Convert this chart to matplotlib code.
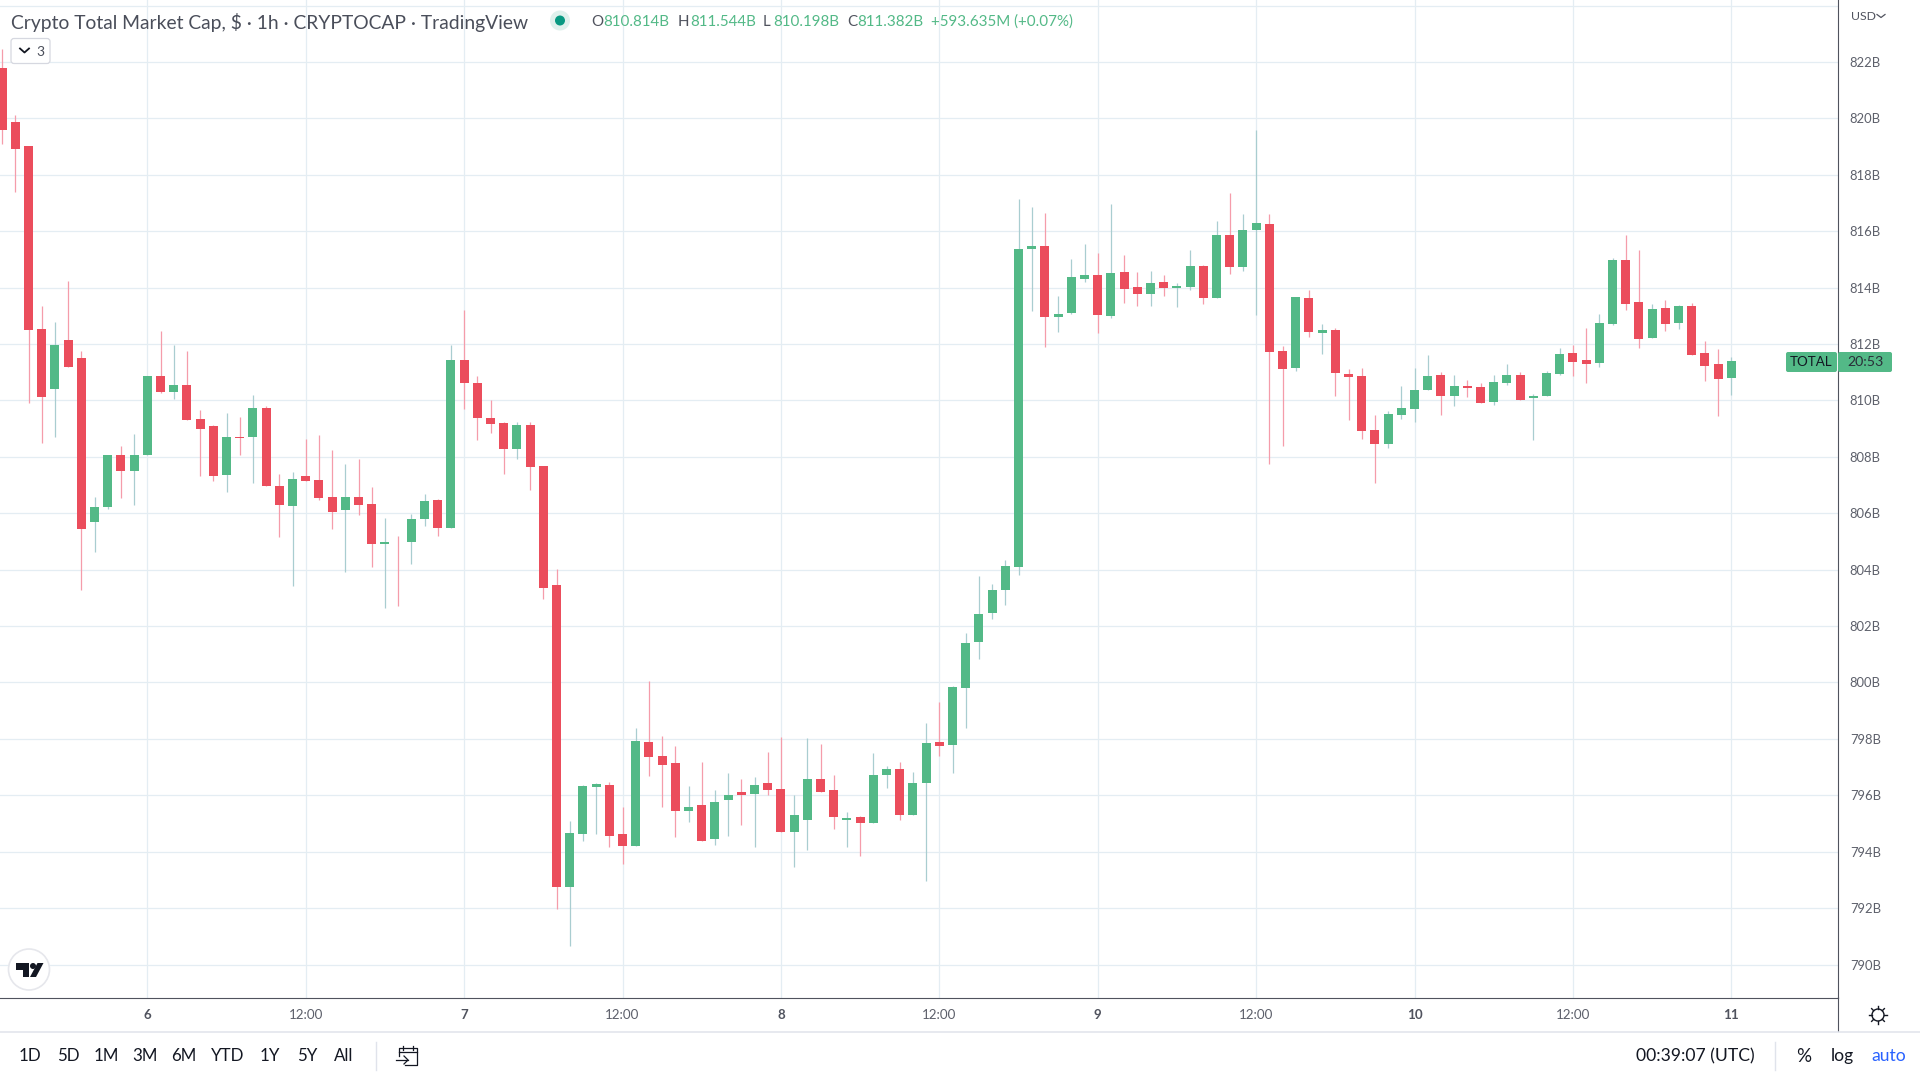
import numpy as np
import matplotlib
matplotlib.use("Agg")
import matplotlib.pyplot as plt
from matplotlib.patches import Circle, FancyBboxPatch, Polygon

plt.rcParams["font.family"] = ["Lato", "DejaVu Sans"]

# Hourly candles, values in billion USD
opens = [821.80, 819.86, 819.04, 812.55, 810.41, 812.16, 811.49, 805.68, 806.21, 808.08, 807.49, 808.07,
         810.85, 810.30, 810.56, 809.33, 809.08, 807.35, 808.72, 808.70, 809.72, 806.98, 806.26, 807.31,
         807.17, 806.59, 806.12, 806.59, 806.34, 804.91, 804.99, 804.98, 805.79, 806.48, 805.47, 811.42,
         810.63, 809.39, 809.21, 808.28, 809.13, 807.69, 803.46, 792.75, 794.63, 796.30, 796.37, 794.63,
         794.21, 797.90, 797.41, 797.15, 795.45, 795.66, 794.45, 795.84, 796.12, 796.05, 796.45, 796.23,
         794.70, 795.14, 796.56, 796.17, 795.14, 795.24, 795.02, 796.73, 796.94, 795.30, 796.45, 797.89,
         797.78, 799.80, 801.43, 802.45, 803.27, 804.08, 815.37, 815.48, 812.97, 813.11, 814.31, 814.45,
         813.00, 814.56, 814.03, 813.78, 814.21, 813.99, 814.03, 814.77, 813.64, 815.87, 814.74, 816.05,
         816.26, 811.76, 811.16, 813.64, 812.40, 812.51, 810.95, 810.88, 808.97, 808.44, 809.50, 809.71,
         810.38, 810.91, 810.17, 810.53, 810.49, 809.96, 810.63, 810.91, 810.07, 810.17, 810.95, 811.69,
         811.45, 811.34, 812.72, 814.99, 813.50, 812.22, 813.29, 812.76, 813.36, 811.69, 811.30, 810.81]
highs = [822.45, 820.11, 819.04, 813.36, 812.80, 814.25, 811.74, 806.56, 808.08, 808.37, 808.82, 810.85,
         812.48, 811.95, 811.74, 809.65, 809.13, 809.54, 809.42, 810.21, 809.82, 807.38, 807.48, 808.65,
         808.79, 808.26, 807.73, 807.91, 806.92, 805.85, 805.18, 805.99, 806.70, 806.52, 811.98, 813.22,
         810.88, 810.02, 809.24, 809.24, 809.24, 807.69, 804.03, 795.09, 796.37, 796.45, 796.48, 795.58,
         798.39, 800.06, 798.11, 797.75, 796.33, 797.18, 796.17, 796.79, 796.56, 796.66, 797.54, 798.08,
         796.02, 798.03, 797.82, 796.73, 795.42, 795.28, 797.51, 797.05, 797.18, 796.84, 798.57, 799.30,
         799.87, 801.74, 803.76, 803.48, 804.36, 817.15, 816.86, 816.65, 813.71, 815.02, 815.55, 815.23,
         816.97, 815.16, 814.56, 814.60, 814.45, 814.17, 815.34, 814.81, 816.37, 817.36, 816.61, 819.59,
         816.61, 811.94, 813.68, 813.92, 812.72, 812.58, 811.13, 811.16, 809.50, 809.61, 810.53, 811.16,
         811.62, 811.02, 810.91, 810.74, 810.63, 810.91, 811.30, 811.02, 810.24, 811.06, 811.87, 811.98,
         812.58, 813.07, 815.06, 815.87, 815.34, 813.43, 813.57, 813.39, 813.46, 812.12, 811.84, 811.55]
lows = [819.08, 817.39, 809.90, 808.49, 808.70, 811.18, 803.27, 804.62, 806.14, 806.54, 806.29, 808.07,
        810.27, 810.04, 809.30, 807.32, 807.14, 806.75, 808.07, 807.07, 806.96, 805.15, 803.41, 807.13,
        806.47, 805.44, 803.92, 805.93, 804.10, 802.64, 802.71, 804.20, 805.54, 805.19, 805.47, 809.69,
        808.60, 808.85, 807.40, 807.93, 806.84, 802.97, 791.97, 790.66, 794.39, 794.63, 794.17, 793.57,
        794.21, 796.69, 795.58, 794.52, 795.06, 794.39, 794.24, 794.57, 794.96, 794.17, 796.02, 794.70,
        793.44, 794.06, 796.12, 794.81, 794.17, 793.85, 795.02, 796.27, 795.14, 795.30, 792.97, 797.39,
        796.79, 798.38, 800.82, 802.24, 802.74, 803.80, 813.19, 811.91, 812.44, 813.07, 814.21, 812.40,
        812.93, 813.46, 813.36, 813.36, 813.71, 813.32, 813.92, 813.43, 813.64, 814.49, 814.60, 813.04,
        807.73, 808.40, 811.06, 812.26, 811.66, 810.17, 809.32, 808.65, 807.09, 808.33, 809.36, 809.22,
        810.38, 809.50, 809.82, 810.14, 809.92, 809.85, 810.56, 810.03, 808.61, 810.17, 810.91, 810.88,
        810.63, 811.20, 812.68, 813.22, 811.87, 812.22, 812.47, 812.54, 811.62, 810.70, 809.46, 810.21]
closes = [819.59, 818.92, 812.50, 810.11, 811.95, 811.18, 805.44, 806.24, 808.08, 807.49, 808.08, 810.85,
          810.30, 810.56, 809.30, 808.99, 807.32, 808.72, 808.67, 809.75, 806.96, 806.29, 807.20, 807.13,
          806.54, 806.05, 806.56, 806.29, 804.91, 804.99, 804.97, 805.81, 806.45, 805.47, 811.42, 810.62,
          809.37, 809.17, 808.28, 809.13, 807.64, 803.36, 792.75, 794.67, 796.33, 796.40, 794.57, 794.21,
          797.93, 797.36, 797.08, 795.45, 795.58, 794.39, 795.76, 796.02, 796.02, 796.37, 796.17, 794.70,
          795.30, 796.56, 796.12, 795.24, 795.20, 795.02, 796.73, 796.94, 795.30, 796.45, 797.87, 797.74,
          799.83, 801.39, 802.42, 803.27, 804.12, 815.37, 815.48, 812.97, 813.07, 814.38, 814.45, 813.04,
          814.53, 813.96, 813.78, 814.17, 813.99, 814.07, 814.77, 813.64, 815.87, 814.74, 816.05, 816.30,
          811.73, 811.13, 813.68, 812.44, 812.51, 810.99, 810.84, 808.93, 808.44, 809.53, 809.75, 810.38,
          810.88, 810.17, 810.53, 810.45, 809.92, 810.67, 810.91, 810.03, 810.17, 810.99, 811.66, 811.38,
          811.30, 812.76, 814.99, 813.43, 812.19, 813.25, 812.72, 813.36, 811.62, 811.23, 810.77, 811.41]

y_ticks = list(range(790, 824, 2))
grid_y = list(range(790, 826, 2))
x_tick_pos = [11, 23, 35, 47, 59, 71, 83, 95, 107, 119, 131]
x_tick_labels = ["6", "12:00", "7", "12:00", "8", "12:00", "9", "12:00", "10", "12:00", "11"]

range_buttons = ["1D", "5D", "1M", "3M", "6M", "YTD", "1Y", "5Y", "All"]
range_x = [30, 68, 106, 145, 184, 228, 270, 307, 344]

UP = "#53b987"
DOWN = "#eb4d5c"
UP_WICK = "#a9cdd0"
DOWN_WICK = "#f59caa"
GRID = "#e4edf3"
AXIS = "#50535e"
TXT = "#131722"
GREY = "#5d606b"

fig = plt.figure(figsize=(19.2, 10.8), dpi=100, facecolor="white")
ax = fig.add_axes([0, 1 - 997.5 / 1080, 1838 / 1920, 997.5 / 1080])
ax.set_xlim(-0.16, 139.08)
ax.set_ylim(788.83, 824.2)

opens = np.array(opens)
closes = np.array(closes)
hours = np.arange(len(opens))
is_up = closes >= opens

ax.hlines(grid_y, -1, 140, color=GRID, lw=0.9, zorder=1)
ax.vlines(x_tick_pos, 780, 830, color=GRID, lw=0.9, zorder=1)

ax.vlines(hours[is_up], np.array(lows)[is_up], np.array(highs)[is_up], color=UP_WICK, lw=0.9, zorder=2)
ax.vlines(hours[~is_up], np.array(lows)[~is_up], np.array(highs)[~is_up], color=DOWN_WICK, lw=0.9, zorder=2)
body_bottom = np.minimum(opens, closes)
body_height = np.abs(closes - opens)
ax.bar(hours[is_up], body_height[is_up], bottom=body_bottom[is_up], width=0.68, color=UP, linewidth=0, zorder=3)
ax.bar(hours[~is_up], body_height[~is_up], bottom=body_bottom[~is_up], width=0.68, color=DOWN, linewidth=0, zorder=3)

ax.yaxis.tick_right()
ax.set_yticks(y_ticks)
ax.set_yticklabels([f"{v}B" for v in y_ticks], fontsize=9.4, color=GREY)
ax.tick_params(axis="y", length=0, pad=8.5)
ax.set_xticks(x_tick_pos)
ax.set_xticklabels(x_tick_labels, fontsize=9.6, color=GREY)
ax.tick_params(axis="x", length=0, pad=8.5)
for lab, txt in zip(ax.get_xticklabels(), x_tick_labels):
    if txt != "12:00":
        lab.set_fontweight("bold")
        lab.set_color("#50535e")
for side in ["left", "top"]:
    ax.spines[side].set_visible(False)
for side in ["right", "bottom"]:
    ax.spines[side].set_color(AXIS)
    ax.spines[side].set_linewidth(0.8)

# overlay in pixel coordinates for the TradingView furniture
ov = fig.add_axes([0, 0, 1, 1], facecolor="none")
ov.set_xlim(0, 1920)
ov.set_ylim(1080, 0)
ov.axis("off")

ov.plot([1838, 1838], [997, 1031], color=AXIS, lw=0.8)
ov.plot([0, 1920], [1031.5, 1031.5], color="#e0e3eb", lw=1.1)

ov.text(11, 22, "Crypto Total Market Cap, $ · 1h · CRYPTOCAP · TradingView", fontsize=13.85, color="#4a4e5a", va="center")
ov.add_patch(Circle((560, 20.5), 10, color="#dff1ec", lw=0))
ov.add_patch(Circle((560, 20.5), 5, color="#089981", lw=0))

legend_parts = [(591, "O", "#50535e"), (603, "810.814B", UP), (678, "H", "#50535e"), (690, "811.544B", UP),
                (763, "L", "#50535e"), (773, "810.198B", UP), (847, "C", "#50535e"), (857, "811.382B", UP),
                (931, "+593.635M (+0.07%)", UP)]
for lx, part, col in legend_parts:
    ov.text(lx, 22, part, fontsize=10.9, color=col, va="center")

ov.add_patch(FancyBboxPatch((13, 40.5), 35, 21, boxstyle="round,pad=2,rounding_size=3", fc="white", ec="#d6d8e0", lw=0.9))
ov.plot([20, 24.5, 29], [48.5, 52.5, 48.5], color=TXT, lw=1.3)
ov.text(40, 51.5, "3", fontsize=10, color="#4a4e5a", ha="center", va="center")

ov.text(1851, 16, "USD", fontsize=8.8, color="#50535e", va="center")
ov.plot([1877, 1881, 1885], [14.5, 17.5, 14.5], color="#50535e", lw=0.9)

# last price tag
ov.add_patch(FancyBboxPatch((1787, 353), 49, 18, boxstyle="round,pad=1,rounding_size=2", fc=UP, ec="none"))
ov.add_patch(FancyBboxPatch((1839, 353), 52, 18, boxstyle="round,pad=1,rounding_size=2", fc=UP, ec="none"))
ov.text(1811, 362, "TOTAL", fontsize=9.6, color=TXT, ha="center", va="center")
ov.text(1866, 362, "20:53", fontsize=10.2, color="#2a2e39", ha="center", va="center")

# logo
ov.add_patch(Circle((29, 969.5), 20.5, fc="white", ec="#e6e7ec", lw=1.2))
ov.add_patch(Polygon([(16, 963), (29, 963), (29, 977), (23, 977), (23, 970), (16, 970)], color=TXT, lw=0))
ov.add_patch(Circle((33, 966), 3, color=TXT, lw=0))
ov.add_patch(Polygon([(37.5, 963), (43.5, 963), (36, 977), (30, 977)], color=TXT, lw=0))

# gear
ov.add_patch(Circle((1878, 1015), 6, fc="none", ec=TXT, lw=1.0))
for ang in np.deg2rad(np.arange(0, 360, 45)):
    ov.plot([1878 + 6 * np.cos(ang), 1878 + 9 * np.cos(ang)], [1015 + 6 * np.sin(ang), 1015 + 9 * np.sin(ang)], color=TXT, lw=1.0)

# bottom bar
for bx, lab in zip(range_x, range_buttons):
    ov.text(bx, 1056, lab, fontsize=12.2, color=TXT, ha="center", va="center")
ov.plot([375.5, 375.5], [1042, 1070], color="#e0e3eb", lw=1.0)
ov.plot([399, 399, 417, 417, 405], [1056, 1048, 1048, 1065, 1065], color=TXT, lw=0.9)
ov.plot([399, 417], [1052, 1052], color=TXT, lw=0.9)
ov.plot([403, 403], [1046, 1050], color=TXT, lw=0.9)
ov.plot([413, 413], [1046, 1050], color=TXT, lw=0.9)
ov.plot([396, 408], [1060, 1060], color=TXT, lw=0.9)
ov.plot([404, 408, 404], [1056, 1060, 1064], color=TXT, lw=0.9)

ov.text(1695, 1056, "00:39:07 (UTC)", fontsize=12.6, color=TXT, ha="center", va="center")
ov.plot([1774.5, 1774.5], [1042, 1070], color="#e0e3eb", lw=1.0)
ov.text(1804, 1056, "%", fontsize=13.5, color=TXT, ha="center", va="center")
ov.text(1842, 1056, "log", fontsize=12.6, color=TXT, ha="center", va="center")
ov.text(1889, 1056, "auto", fontsize=12.6, color="#2962ff", ha="center", va="center")

fig.savefig("out.png", dpi=100)
